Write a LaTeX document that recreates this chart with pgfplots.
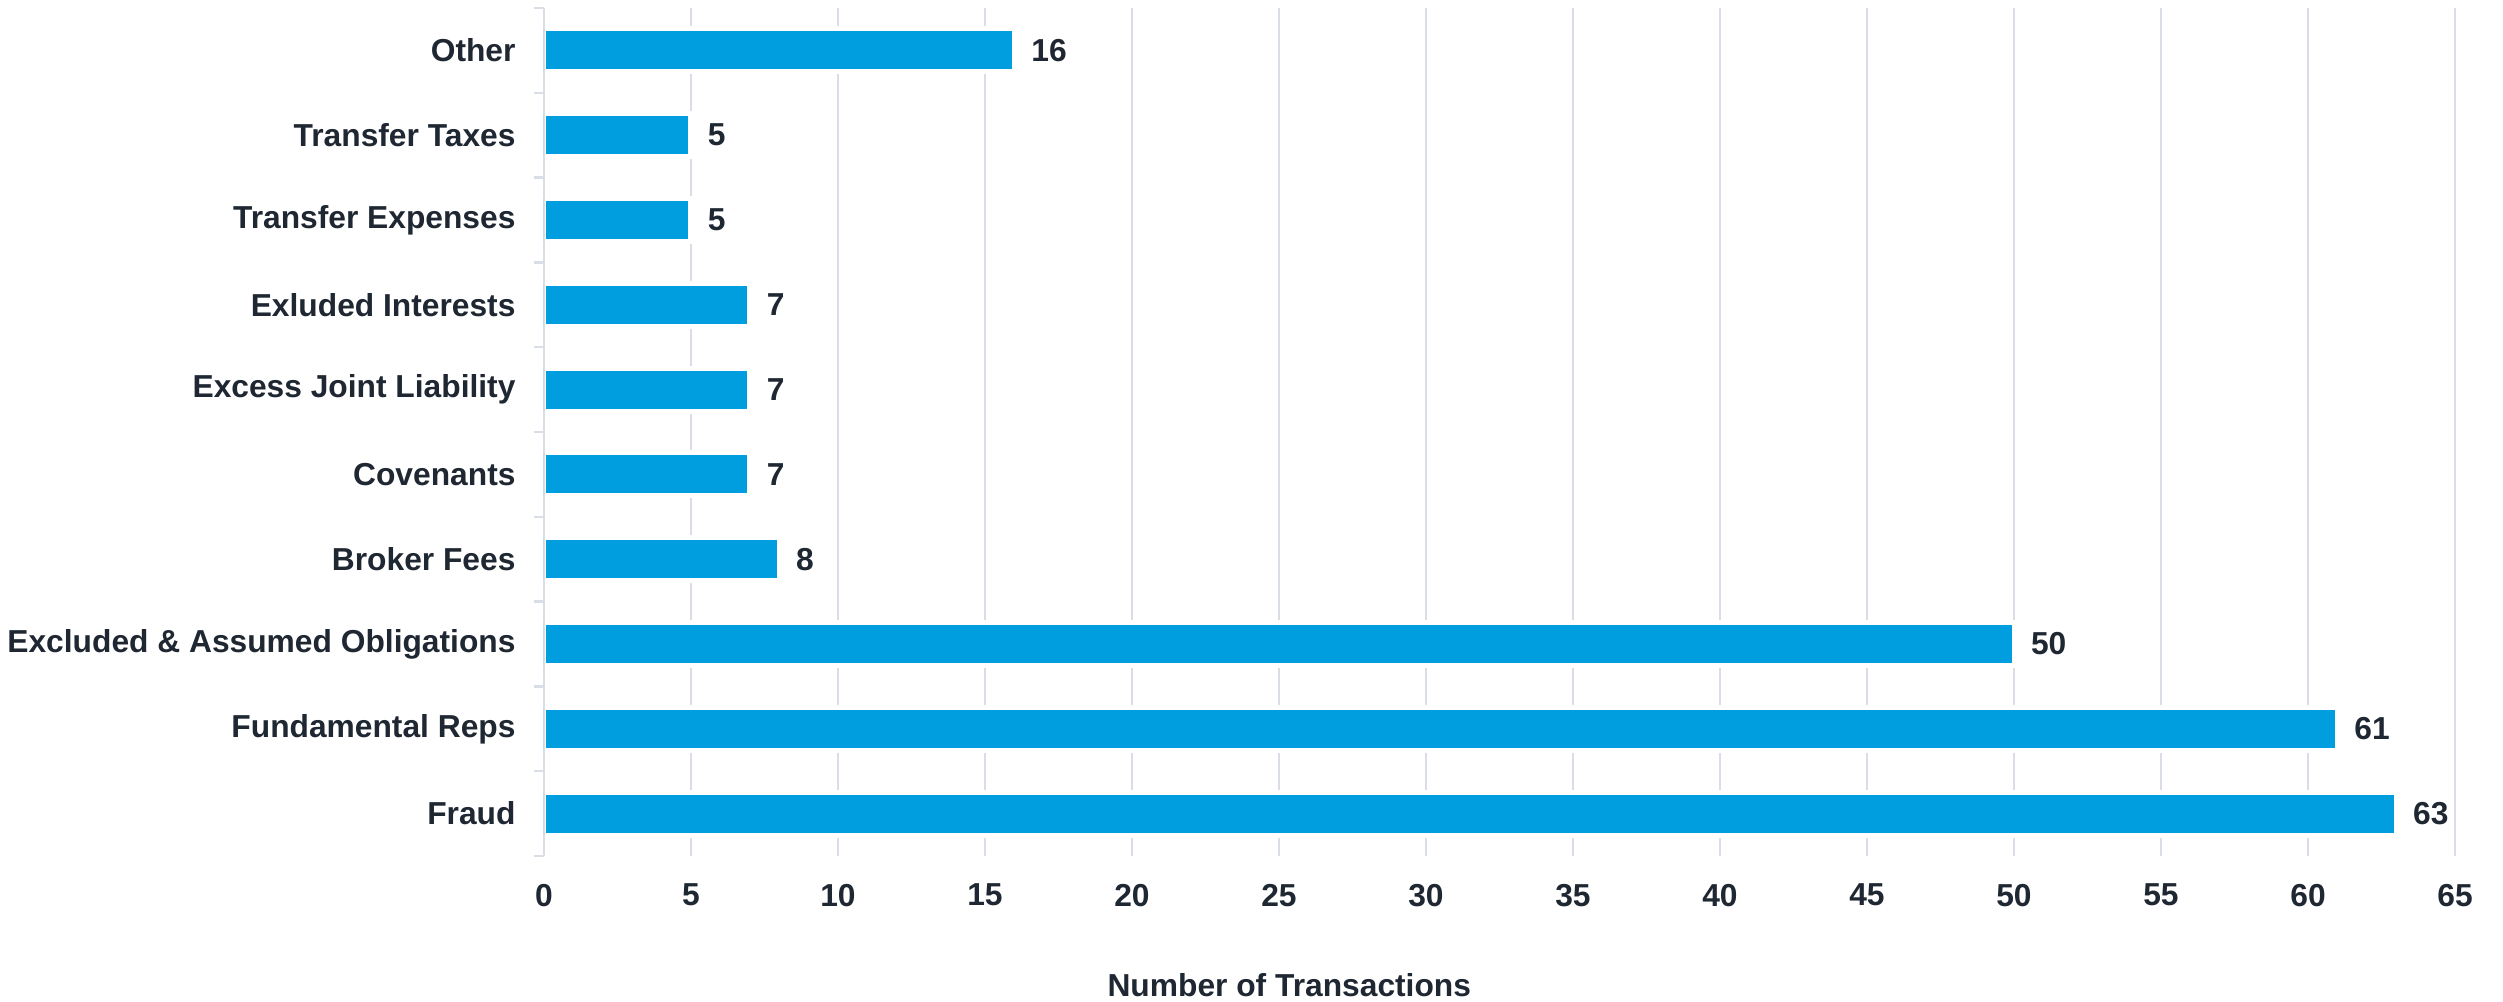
\documentclass[border=0pt]{standalone}
\usepackage{fontspec}
\setmainfont{Liberation Sans}
\usepackage{pgfplots}
\usepackage{pgfplotstable}
\pgfplotsset{compat=1.18}
\definecolor{barblue}{RGB}{0,158,222}
\definecolor{inkc}{RGB}{30,39,50}
\definecolor{gridc}{RGB}{217,222,230}

% bottom to top: Fraud ... Other
\pgfplotstableread[col sep=comma]{
pos,count
0,63
1,61
2,50
3,8
4,7
5,7
6,7
7,5
8,5
9,16
}\deals

\newcommand{\lbl}{\fontsize{12.7}{14}\selectfont\bfseries\color{inkc}}

\begin{document}
\begin{tikzpicture}
\begin{axis}[
    name=ax,
    xbar,
    scale only axis,
    width=764.4pt,
    height=339.2pt,
    xmin=0, xmax=65,
    ymin=-0.5, ymax=9.5,
    xtick={0,5,...,65},
    ytick={0,...,9},
    yticklabels={Fraud,Fundamental Reps,Excluded \& Assumed Obligations,Broker Fees,Covenants,Excess Joint Liability,Exluded Interests,Transfer Expenses,Transfer Taxes,Other},
    minor ytick={-0.5,0.5,...,9.5},
    xmajorgrids,
    major grid style={gridc, line width=1pt},
    axis line style={draw=none},
    tick align=outside,
    ytick pos=left,
    xtick pos=bottom,
    major tick length=0pt,
    minor tick length=4pt,
    minor tick style={gridc, line width=1pt},
    /pgf/number format/assume math mode=true,
    every tick label/.append style={font=\lbl},
    yticklabel style={inner sep=0pt, xshift=-11.2pt},
    xticklabel style={inner sep=0pt, yshift=-11pt},
    xlabel={Number of Transactions},
    xlabel style={at={(rel axis cs:0.39,0)}, anchor=center, yshift=-51.6pt, font=\lbl},
]
\addplot[fill=barblue, draw=white, line width=2pt, bar width=17.2pt,
    nodes near coords,
    every node near coord/.append style={font=\lbl, anchor=west, inner sep=0pt, xshift=5.8pt}]
    table[x=count, y=pos] {\deals};
\draw[gridc, line width=1pt] (rel axis cs:0,0) -- (rel axis cs:0,1);
\end{axis}
\pgfresetboundingbox
\path[use as bounding box] ([shift={(-217.6pt,-58pt)}]ax.south west) rectangle ([shift={(19.2pt,3.2pt)}]ax.north east);
\end{tikzpicture}
\end{document}
